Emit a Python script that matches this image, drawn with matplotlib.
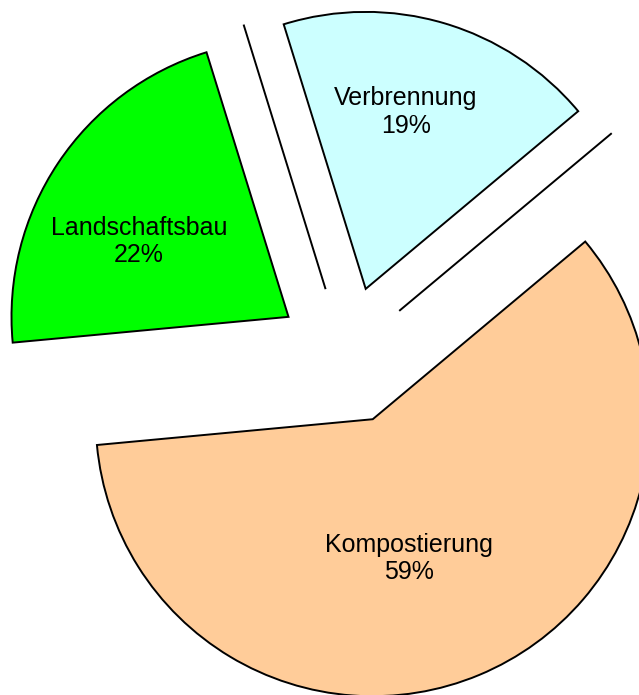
import numpy as np
import matplotlib
matplotlib.use("Agg")
import matplotlib.pyplot as plt

plt.rcParams['font.family'] = ['Liberation Sans', 'DejaVu Sans']

# Anteile (zwei leere Kategorien werden nur als Linie gezeichnet)
kategorien = ["", "Verbrennung", "", "Landschaftsbau", "Kompostierung"]
anteile = [0.0, 18.7, 0.0, 21.7, 59.6]
prozent_text = ["", "19%", "", "22%", "59%"]
farben = ["white", "#CCFFFF", "white", "#00FF00", "#FFCC99"]

# Beschriftungslage: Abstand (Anteil vom Radius) und Winkelversatz
label_r = [0, 0.655, 0, 0.605, 0.52]
label_dw = [0, 3.7, 0, 7.0, -8.0]

fig = plt.figure(figsize=(6.39, 6.95), dpi=100)
ax = fig.add_axes([0, 0, 1, 1])

wedges, _ = ax.pie(anteile, colors=farben, startangle=39.9,
                   explode=[0.25] * len(anteile), counterclock=True,
                   wedgeprops=dict(edgecolor="black", linewidth=1.4))

for w, name, pct, r, dw in zip(wedges, kategorien, prozent_text, label_r, label_dw):
    if not name:
        continue
    mid = np.deg2rad((w.theta1 + w.theta2) / 2 + dw)
    cx, cy = w.center
    ax.text(cx + r * w.r * np.cos(mid), cy + r * w.r * np.sin(mid),
            f"{name}\n{pct}", ha="center", va="center", fontsize=18,
            linespacing=1.2)

R = 277.0
ax.set_xlim(-346.1 / R, (639 - 346.1) / R)
ax.set_ylim(-(695 - 355.3) / R, 355.3 / R)
ax.set_aspect("auto")
ax.axis("off")

fig.savefig("out.png", dpi=100)
